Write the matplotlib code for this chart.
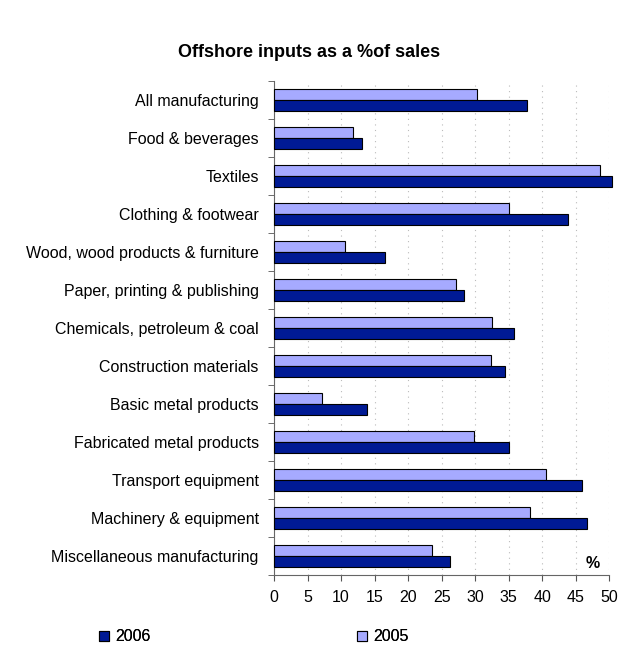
import matplotlib.pyplot as plt
import numpy as np
from matplotlib.patches import Patch

plt.rcParams["font.family"] = ["Liberation Sans", "DejaVu Sans"]

categories = [
    "All manufacturing",
    "Food & beverages",
    "Textiles",
    "Clothing & footwear",
    "Wood, wood products & furniture",
    "Paper, printing & publishing",
    "Chemicals, petroleum & coal",
    "Construction materials",
    "Basic metal products",
    "Fabricated metal products",
    "Transport equipment",
    "Machinery & equipment",
    "Miscellaneous manufacturing",
]
vals_2005 = [30.3, 11.8, 48.6, 35.1, 10.6, 27.2, 32.6, 32.4, 7.1, 29.9, 40.6, 38.2, 23.5]
vals_2006 = [37.8, 13.1, 50.4, 43.8, 16.6, 28.3, 35.8, 34.5, 13.9, 35.1, 45.9, 46.7, 26.2]
xticks = list(range(0, 55, 5))

DARK = "#001a94"
LIGHT = "#a6aaff"

fig = plt.figure(figsize=(6.19, 6.46), dpi=100)
ax = fig.add_axes([0.4427, 0.110, 0.5413, 0.7646])

y = np.arange(len(categories))
h = 0.28
b1 = ax.barh(y - h / 2, vals_2005, height=h, color=LIGHT, edgecolor="black", linewidth=0.8, zorder=3)
b2 = ax.barh(y + h / 2, vals_2006, height=h, color=DARK, edgecolor="black", linewidth=0.8, zorder=3)
for bar in list(b1) + list(b2):
    bar.set_clip_on(False)

ax.set_ylim(len(categories) - 0.5, -0.5)
ax.set_xlim(0, 50)
ax.set_xticks(xticks)
ax.set_xticklabels([str(t) for t in xticks], fontsize=11.5)
ax.set_yticks(y)
ax.set_yticklabels(categories, fontsize=11.5)
ax.tick_params(axis="y", length=0, pad=11)
ax.set_yticks(np.arange(-0.5, len(categories)), minor=True)
ax.tick_params(axis="y", which="minor", length=4, color="#555555")
ax.tick_params(axis="x", length=4, color="#555555", pad=7)

for s in ["top", "right"]:
    ax.spines[s].set_visible(False)
for s in ["left", "bottom"]:
    ax.spines[s].set_color("#666666")

ax.grid(axis="x", linestyle=(0, (1, 4)), color="#bbbbbb", linewidth=0.8, zorder=0)

ax.text(47.5, 12.2, "%", fontsize=11.5, fontweight="bold", ha="center", va="center")

fig.text(0.5, 0.919, "Offshore inputs as a %of sales", fontsize=13,
         fontweight="bold", ha="center", va="center")

for color, label, xpos in [(DARK, "2006", 0.16), (LIGHT, "2005", 0.577)]:
    leg = fig.legend(handles=[Patch(facecolor=color, edgecolor="black", linewidth=0.8, label=label)],
                     loc="center left", bbox_to_anchor=(xpos, 0.014), frameon=False,
                     fontsize=11.5, handlelength=0.6, handleheight=0.6, handletextpad=0.4,
                     borderaxespad=0, borderpad=0)
    fig.add_artist(leg)

fig.savefig("out.png", dpi=100)
